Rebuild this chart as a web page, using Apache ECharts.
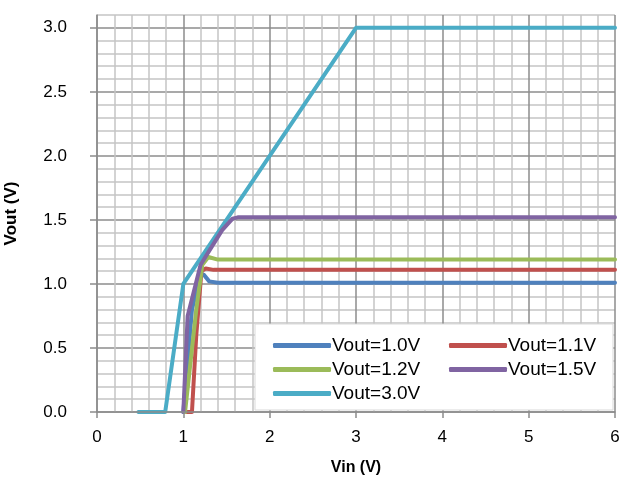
<!DOCTYPE html>
<html>
<head>
<meta charset="utf-8">
<script src="https://cdn.jsdelivr.net/npm/echarts@6/dist/echarts.min.js"></script>
<style>html,body{margin:0;padding:0;background:#fff}#c{width:622px;height:487px}</style>
</head>
<body>
<div id="c"></div>
<script>
// Series data: [Vin, Vout]
var v10 = [[1.0,0],[1.1,0.8],[1.2,1.08],[1.24,1.07],[1.3,1.02],[1.4,1.01],[6,1.01]];
var v11 = [[1.04,0],[1.1,0],[1.15,0.6],[1.21,1.1],[1.26,1.12],[1.35,1.11],[6,1.11]];
var v12 = [[1.02,0],[1.15,0.8],[1.22,1.15],[1.29,1.21],[1.4,1.19],[6,1.19]];
var v15 = [[1.0,0],[1.05,0.75],[1.2,1.15],[1.31,1.27],[1.45,1.42],[1.57,1.51],[1.63,1.52],[6,1.52]];
var v30 = [[0.48,0],[0.79,0],[1.0,1.0],[3.0,3.0],[6,3.0]];
var seriesNames = ['Vout=1.0V','Vout=1.1V','Vout=1.2V','Vout=1.5V','Vout=3.0V'];
var seriesColors = ['#4F81BD','#C0504D','#9BBB59','#8064A2','#4BACC6'];
var yTicks = [0,0.5,1.0,1.5,2.0,2.5,3.0];
var xTicks = [0,1,2,3,4,5,6];

var allData = [v10, v11, v12, v15, v30];
var gridMajor = '#8c8c8c', gridMinor = '#c4c4c4';
var font = 'Liberation Sans';
var cycle = [gridMajor, gridMinor, gridMinor, gridMinor, gridMinor];

var chart = echarts.init(document.getElementById('c'));
chart.setOption({
  animation: false,
  grid: {left: 97, right: 7, top: 15, bottom: 75, containLabel: false, outerBoundsMode: 'none'},
  xAxis: [{
    type: 'value', min: 0, max: 6, interval: 1,
    name: 'Vin (V)', nameLocation: 'middle', nameGap: 48,
    nameTextStyle: {fontFamily: font, fontWeight: 'bold', fontSize: 16, color: '#000'},
    axisLine: {show: true, lineStyle: {color: gridMajor, width: 1.5}},
    axisTick: {show: true, length: 6, customValues: xTicks, lineStyle: {color: gridMajor, width: 1.5}},
    axisLabel: {customValues: xTicks, fontFamily: font, fontSize: 17, color: '#000', margin: 17},
    splitLine: {show: false}, z: 3
  }, {
    type: 'value', min: 0, max: 6, interval: 0.2, position: 'bottom',
    axisLine: {show: false}, axisTick: {show: false}, axisLabel: {show: false},
    splitLine: {show: true, lineStyle: {color: cycle, width: 1.5}}
  }],
  yAxis: [{
    type: 'value', min: 0, max: 3.1, interval: 0.5,
    name: 'Vout (V)', nameLocation: 'middle', nameGap: 77, nameRotate: 90,
    nameTextStyle: {fontFamily: font, fontWeight: 'bold', fontSize: 17, color: '#000'},
    axisLine: {show: true, lineStyle: {color: gridMajor, width: 1.5}},
    axisTick: {show: true, length: 7, customValues: yTicks, lineStyle: {color: gridMajor, width: 1.5}},
    axisLabel: {customValues: yTicks, fontFamily: font, fontSize: 17, color: '#000', margin: 30,
      formatter: function(v){ return v.toFixed(1); }},
    splitLine: {show: false}, z: 3
  }, {
    type: 'value', min: 0, max: 3.1, interval: 0.1, position: 'left',
    axisLine: {show: false}, axisTick: {show: false}, axisLabel: {show: false},
    splitLine: {show: true, lineStyle: {color: cycle, width: 1.5}}
  }],
  graphic: [{
    type: 'rect', z: 3,
    shape: {x: 255, y: 324, width: 358, height: 86},
    style: {fill: '#fff', stroke: '#d9d9d9', lineWidth: 1}
  }],
  legend: [
    {data: [seriesNames[0], seriesNames[2], seriesNames[4]], orient: 'vertical', left: 268, top: 331,
     itemWidth: 58, itemHeight: 5, itemGap: 5, icon: 'roundRect',
     textStyle: {fontFamily: font, fontSize: 19, color: '#000', padding: [0,0,0,-4]}},
    {data: [seriesNames[1], seriesNames[3]], orient: 'vertical', left: 444, top: 331,
     itemWidth: 58, itemHeight: 5, itemGap: 5, icon: 'roundRect',
     textStyle: {fontFamily: font, fontSize: 19, color: '#000', padding: [0,0,0,-4]}}
  ],
  series: allData.map(function(d, i){
    return {
      name: seriesNames[i], type: 'line', data: d, showSymbol: false, symbol: 'none',
      xAxisIndex: 0, yAxisIndex: 0,
      lineStyle: {color: seriesColors[i], width: 4, cap: 'round', join: 'round'},
      itemStyle: {color: seriesColors[i]}, z: (i === 4 ? 1.5 : 2)
    };
  })
});
</script>
</body>
</html>
